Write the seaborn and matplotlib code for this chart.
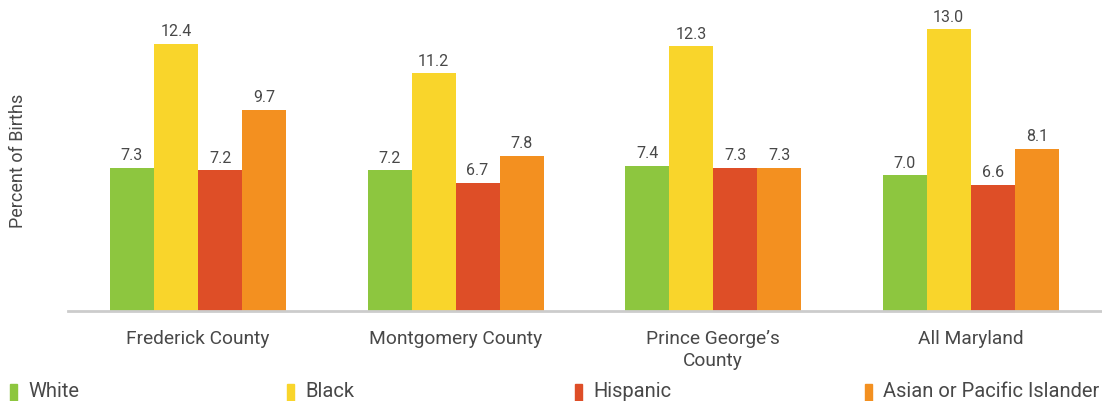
import matplotlib
matplotlib.use("Agg")
import matplotlib.pyplot as plt
from matplotlib.patches import Rectangle
import seaborn as sns
import pandas as pd

regions = ["Frederick County", "Montgomery County", "Prince George\u2019s\nCounty", "All Maryland"]
groups = ["White", "Black", "Hispanic", "Asian or Pacific Islander"]
white = [7.3, 7.2, 7.4, 7.0]
black = [12.4, 11.2, 12.3, 13.0]
hispanic = [7.2, 6.7, 7.3, 6.6]
asian = [9.7, 7.8, 7.3, 8.1]
colors = ["#8DC63F", "#F9D52B", "#DE4E27", "#F39020"]

rows = []
for g, vals in zip(groups, [white, black, hispanic, asian]):
    for r, v in zip(regions, vals):
        rows.append({"region": r, "group": g, "value": v})
df = pd.DataFrame(rows)

sns.set_theme(style="white")
plt.rcParams["font.family"] = ["Roboto", "DejaVu Sans"]
text_color = "#484848"
weight = "normal"

fig = plt.figure(figsize=(11.02, 4.02), dpi=100)
ax = fig.add_axes([68 / 1102, 90 / 402, 1 - 68 / 1102, 312 / 402])

sns.barplot(data=df, x="region", y="value", hue="group", order=regions,
            hue_order=groups, palette=colors, width=0.684, gap=0,
            saturation=1, linewidth=0, legend=False, ax=ax)

for cont in ax.containers:
    ax.bar_label(cont, fmt="%.1f", padding=4, fontsize=11.5,
                 color=text_color, fontweight=weight)

ax.set_ylim(1.42, 14.25)
ax.set_xlim(-0.505, 3.51)
ax.set_yticks([])
ax.set_xlabel("")
ax.set_ylabel("")
for side in ["top", "right", "left"]:
    ax.spines[side].set_visible(False)
ax.spines["bottom"].set_color("#cccccc")
ax.spines["bottom"].set_linewidth(2)
ax.tick_params(axis="x", length=0, pad=13, labelsize=13.8, labelcolor=text_color)
for lab in ax.get_xticklabels():
    lab.set_fontweight(weight)
    lab.set_linespacing(1.3)

fig.text(18 / 1102, 1 - 161 / 402, "Percent of Births", rotation=90,
         ha="center", va="center", fontsize=13, color=text_color,
         fontweight=weight)

# legend row along the bottom edge
marker_x = [10, 287, 575, 865]
for g, c, mx in zip(groups, colors, marker_x):
    fig.patches.append(Rectangle((mx / 1102, 0), 7 / 1102, 17 / 402,
                                 transform=fig.transFigure, color=c,
                                 figure=fig))
    fig.text((mx + 18) / 1102, 1 - 392 / 402, g, ha="left", va="center",
             fontsize=14.5, color=text_color, fontweight=weight)

fig.savefig("out.png", dpi=100)
